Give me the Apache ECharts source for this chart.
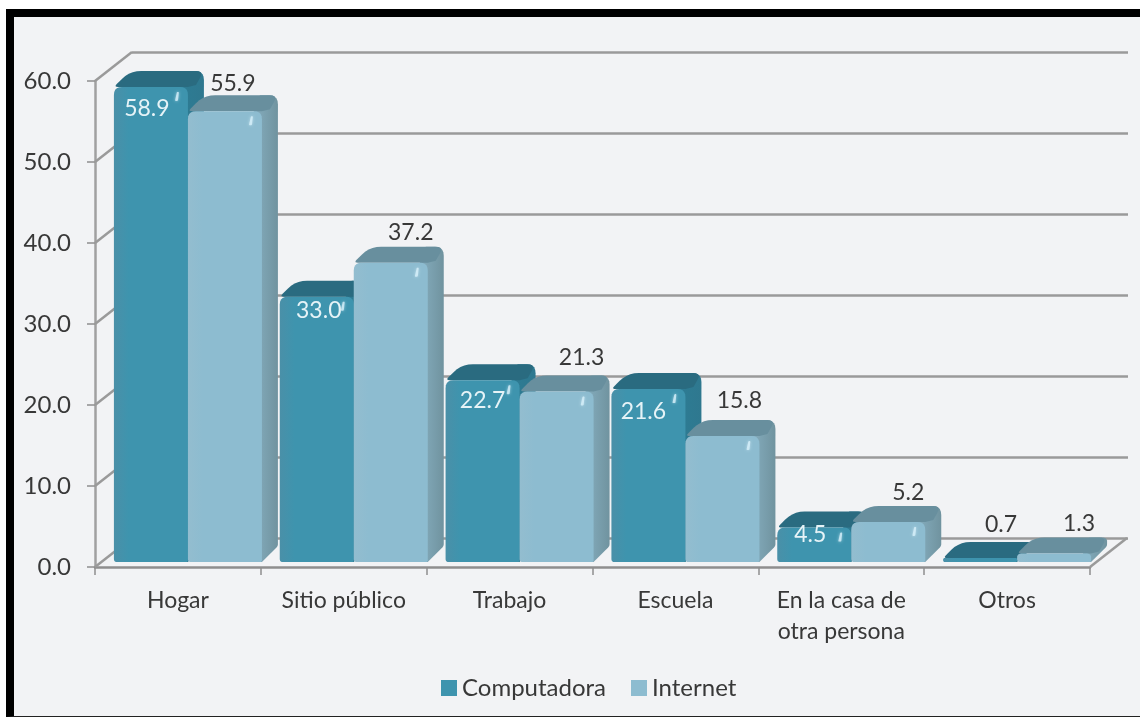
<!DOCTYPE html>
<html>
<head>
<meta charset="utf-8">
<style>
html,body{margin:0;padding:0;background:#fff;}
#frame{position:absolute;left:6px;top:9px;width:1134px;height:708px;box-sizing:border-box;background:#f2f3f5;border-top:8px solid #000;border-left:8px solid #000;border-bottom:1px solid #222;}
#chart{position:absolute;left:0;top:0;width:1140px;height:717px;}
</style>
<script src="https://cdn.jsdelivr.net/npm/echarts@6/dist/echarts.min.js"></script>
</head>
<body>
<div id="frame"></div>
<div id="chart"></div>
<script>
var categories = ['Hogar', 'Sitio público', 'Trabajo', 'Escuela', 'En la casa de\notra persona', 'Otros'];
var computadora = [58.9, 33.0, 22.7, 21.6, 4.5, 0.7];
var internet = [55.9, 37.2, 21.3, 15.8, 5.2, 1.3];
var yTicks = [0, 10, 20, 30, 40, 50, 60];

// label shift from the middle of the bar front, in px
var compShift = [[-4, 19], [2, 11], [0, 17], [-5, 20], [-4, 4], [21, -37]];
var intShift = [[8, -31], [20, -33], [25, -37], [17, -38], [20, -32], [25, -33]];

var fontName = 'Lato';
var barW = 74, depthX = 16, depthY = -16, baseUp = 5, topUp = 3, centerGap = 10;

// polygon with rounded corners, r is per point
function roundPoly(pts, rs) {
    var out = [];
    var n = pts.length;
    for (var i = 0; i < n; i++) {
        var p = pts[i], a = pts[(i + n - 1) % n], b = pts[(i + 1) % n];
        var la = Math.hypot(a[0] - p[0], a[1] - p[1]) || 1;
        var lb = Math.hypot(b[0] - p[0], b[1] - p[1]) || 1;
        var r = Math.min(rs[i], la / 2, lb / 2);
        if (r < 0.5) { out.push(p); continue; }
        var s = [p[0] + (a[0] - p[0]) * r / la, p[1] + (a[1] - p[1]) * r / la];
        var e = [p[0] + (b[0] - p[0]) * r / lb, p[1] + (b[1] - p[1]) * r / lb];
        for (var t = 0; t <= 5; t++) {
            var u = t / 5;
            out.push([
                (1 - u) * (1 - u) * s[0] + 2 * u * (1 - u) * p[0] + u * u * e[0],
                (1 - u) * (1 - u) * s[1] + 2 * u * (1 - u) * p[1] + u * u * e[1]
            ]);
        }
    }
    return out;
}

function makeBar(colors, isFirst, shifts, labelColors) {
    return function(params, api) {
        var idx = api.value(0), val = api.value(1);
        var top = api.coord([idx, val]);
        var zero = api.coord([idx, 0]);
        var mid = top[0] + centerGap;
        var L = isFirst ? mid - barW : mid;
        var R = L + barW;
        var base = zero[1] - baseUp;
        var T = Math.min(top[1] - topUp, base - 4);
        var h = base - T;
        var kids = [];
        kids.push({
            type: 'polygon',
            shape: {points: roundPoly([[R - 8, T], [R - 2, T + depthY], [R + depthX, T + depthY], [R + depthX, base + depthY], [R, base], [R - 8, base]], [0, 0, 12, 2, 0, 0])},
            style: {fill: {type: 'linear', x: 0, y: 0, x2: 1, y2: 0, colorStops: [{offset: 0, color: colors.sideA}, {offset: 1, color: colors.sideB}]}}
        });
        kids.push({
            type: 'polygon',
            shape: {points: roundPoly([[L, T], [L + depthX, T + depthY], [R + depthX, T + depthY], [R + 8, T - 2], [R, T]], [4, 12, 12, 0, 0])},
            style: {fill: colors.top}
        });
        var cr = Math.min(8, h / 2);
        kids.push({
            type: 'polygon',
            shape: {points: roundPoly([[L, T], [R, T], [R, base], [L, base]], [cr, cr, 2, 3])},
            style: {fill: {type: 'linear', x: 0, y: 0, x2: 1, y2: 0, colorStops: [{offset: 0, color: colors.frontA}, {offset: 0.2, color: colors.front}, {offset: 1, color: colors.front}]}}
        });
        if (h > 20) {
            var hx = R - 13, hy = T + 5;
            kids.push({
                type: 'polygon',
                shape: {points: roundPoly([[hx, hy + 9], [hx + 2, hy], [hx + 4, hy], [hx + 3, hy + 9]], [1, 1, 1, 1])},
                style: {fill: 'rgba(215,240,250,0.8)', shadowBlur: 3, shadowColor: 'rgba(215,240,250,0.8)'}
            });
        }
        var s = shifts[idx];
        kids.push({
            type: 'text',
            style: {
                text: val.toFixed(1),
                x: (L + R) / 2 + s[0],
                y: top[1] + s[1],
                align: 'center',
                verticalAlign: 'middle',
                font: '23px ' + fontName,
                fill: labelColors[idx]
            }
        });
        return {type: 'group', children: kids};
    };
}

var compColors = {front: '#3e94ae', frontA: '#4a90a8', top: '#2a6b80', sideA: '#2d7c94', sideB: '#2f788f'};
var intColors = {front: '#8dbcd0', frontA: '#93bdcf', top: '#688f9e', sideA: '#85adbe', sideB: '#70939f'};

var white = '#e6f3f7', dark = '#383838';

var myChart = echarts.init(document.getElementById('chart'));
myChart.setOption({
    backgroundColor: 'transparent',
    animation: false,
    legend: {
        left: 436,
        top: 671,
        icon: 'rect',
        itemWidth: 16,
        itemHeight: 16,
        itemGap: 25,
        data: ['Computadora', 'Internet'],
        textStyle: {fontFamily: fontName, fontSize: 24, color: dark}
    },
    grid: [
        {left: 95, right: 50, top: 81, height: 486},
        {left: 132, right: 12, top: 52, height: 486}
    ],
    xAxis: [
        {
            type: 'category',
            gridIndex: 0,
            data: categories,
            axisLine: {lineStyle: {color: '#8e8e8e', width: 2.5}},
            axisTick: {show: true, length: 8, lineStyle: {color: '#8e8e8e', width: 1.5}},
            axisLabel: {interval: 0, margin: 18, fontFamily: fontName, fontSize: 23, lineHeight: 31, color: dark}
        },
        {type: 'category', gridIndex: 1, data: categories, show: false}
    ],
    yAxis: [
        {
            type: 'value',
            gridIndex: 0,
            min: 0,
            max: 60,
            interval: 10,
            axisLine: {show: true, lineStyle: {color: '#a0a0a0', width: 2.5}},
            axisTick: {show: true, length: 8, lineStyle: {color: '#8e8e8e', width: 1.5}},
            splitLine: {show: false},
            axisLabel: {
                margin: 24,
                fontFamily: fontName,
                fontSize: 24,
                color: dark,
                formatter: function(v) { return v.toFixed(1); }
            }
        },
        {
            type: 'value',
            gridIndex: 1,
            min: 0,
            max: 60,
            interval: 10,
            axisLine: {show: false},
            axisTick: {show: false},
            axisLabel: {show: false},
            splitLine: {show: true, lineStyle: {color: '#9a9a9a', width: 2.5}}
        }
    ],
    series: [
        {
            // side wall diagonals and the floor edge
            type: 'custom',
            xAxisIndex: 0,
            yAxisIndex: 0,
            silent: true,
            z: 1,
            data: yTicks.map(function(v) { return [0, v]; }),
            renderItem: function(params, api) {
                var y = api.coord([0, api.value(1)])[1];
                var x = params.coordSys.x;
                var kids = [{
                    type: 'line',
                    shape: {x1: x, y1: y, x2: x + 37, y2: y - 29},
                    style: {stroke: '#9a9a9a', lineWidth: 2.5}
                }];
                if (api.value(1) === 0) {
                    var xr = x + params.coordSys.width;
                    kids.push({
                        type: 'line',
                        shape: {x1: xr, y1: y, x2: xr + 37, y2: y - 29},
                        style: {stroke: '#9a9a9a', lineWidth: 2.5}
                    });
                }
                return {type: 'group', children: kids};
            }
        },
        {
            name: 'Computadora',
            type: 'custom',
            xAxisIndex: 0,
            yAxisIndex: 0,
            z: 3,
            itemStyle: {color: '#3e94ae'},
            data: computadora.map(function(v, i) { return [i, v]; }),
            renderItem: makeBar(compColors, true, compShift, [white, white, white, white, white, dark])
        },
        {
            name: 'Internet',
            type: 'custom',
            xAxisIndex: 0,
            yAxisIndex: 0,
            z: 4,
            itemStyle: {color: '#8dbcd0'},
            data: internet.map(function(v, i) { return [i, v]; }),
            renderItem: makeBar(intColors, false, intShift, [dark, dark, dark, dark, dark, dark])
        }
    ]
});
</script>
</body>
</html>
